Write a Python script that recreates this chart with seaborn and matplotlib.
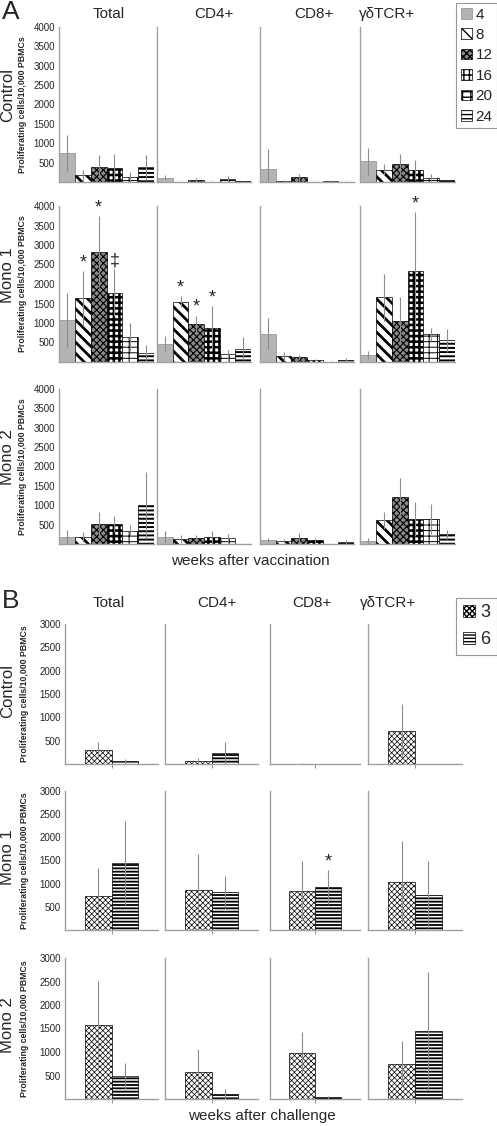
import numpy as np
import pandas as pd
import matplotlib
matplotlib.use('Agg')
import matplotlib.pyplot as plt
import seaborn as sns
from matplotlib.patches import Patch

sns.set_style('white')
plt.rcParams['font.family'] = ['Liberation Sans', 'DejaVu Sans']
plt.rcParams['hatch.linewidth'] = 1.0

# ---------- data ----------
cells = ['Total', 'CD4+', 'CD8+', 'γδTCR+']
groups = ['Control', 'Mono 1', 'Mono 2']
weeks_vac = ['4', '8', '12', '16', '20', '24']
weeks_chal = ['3', '6']

# panel A: one list per cell type (Total, CD4+, CD8+, gdTCR+), weeks 4..24
vac_control = [[750, 190, 400, 370, 120, 380], [110, 5, 60, 10, 80, 20],
               [340, 20, 120, 5, 30, 10], [530, 320, 460, 310, 100, 50]]
vac_control_err = [[470, 130, 300, 350, 150, 320], [60, 5, 40, 5, 70, 10],
                   [520, 20, 95, 5, 30, 10], [350, 140, 270, 270, 115, 10]]
vac_mono1 = [[1080, 1630, 2830, 1780, 640, 230], [470, 1550, 970, 880, 200, 340],
             [725, 145, 120, 50, 10, 60], [170, 1655, 1060, 2340, 710, 555]]
vac_mono1_err = [[700, 700, 910, 600, 370, 200], [190, 140, 210, 550, 120, 290],
                 [400, 110, 70, 25, 5, 50], [100, 600, 600, 1500, 170, 290]]
vac_mono2 = [[180, 180, 515, 525, 345, 1000], [180, 120, 145, 170, 145, 0],
             [105, 70, 155, 95, 0, 50], [85, 615, 1225, 645, 645, 250]]
vac_mono2_err = [[170, 120, 310, 205, 150, 860], [155, 100, 80, 165, 105, 0],
                 [50, 50, 130, 70, 0, 50], [80, 215, 470, 445, 395, 120]]

# panel B: weeks 3 and 6 after challenge
chal_control = [[300, 57], [64, 236], [10, 5], [716, 0]]
chal_control_err = [[166, 58], [72, 230], [5, 5], [566, 0]]
chal_mono1 = [[730, 1445], [857, 814], [843, 921], [1043, 764]]
chal_mono1_err = [[615, 915], [785, 345], [640, 370], [870, 715]]
chal_mono2 = [[1580, 496], [575, 108], [984, 36], [754, 1443]]
chal_mono2_err = [[935, 280], [490, 115], [440, 30], [475, 1260]]

# significance marks: (group, cell, bar index, symbol)
sig_vac = [('Mono 1', 'Total', 1, '*'), ('Mono 1', 'Total', 2, '*'), ('Mono 1', 'Total', 3, '‡'),
           ('Mono 1', 'CD4+', 1, '*'), ('Mono 1', 'CD4+', 2, '*'), ('Mono 1', 'CD4+', 3, '*'),
           ('Mono 1', 'γδTCR+', 3, '*')]
sig_chal = [('Mono 1', 'CD8+', 1, '*')]

# ---------- styles ----------
vac_styles = [
    dict(fc='#b4b4b4', ec='#8a8a8a', hatch='', hlw=1.0),
    dict(fc='white', ec='black', hatch='\\\\\\', hlw=2.0),
    dict(fc='#8a8a8a', ec='black', hatch='xxxxx', hlw=0.8),
    dict(fc='white', ec='black', hatch='+++', hlw=1.8),
    dict(fc='white', ec='black', hatch='---||', hlw=0.7),
    dict(fc='white', ec='black', hatch='----', hlw=1.4),
]
chal_styles = [
    dict(fc='white', ec='black', hatch='xxxxxx', hlw=0.5),
    dict(fc='white', ec='black', hatch='-----', hlw=1.3),
]

W, H = 497, 1126
fig = plt.figure(figsize=(W / 100, H / 100), dpi=100)


def px_axes(x0, x1, y0, y1):
    return fig.add_axes([x0 / W, 1 - y1 / H, (x1 - x0) / W, (y1 - y0) / H])


def style_patch(p, st):
    p.set_facecolor(st['fc'])
    p.set_edgecolor(st['ec'])
    p.set_hatch(st['hatch'])
    p.set_linewidth(0.5)
    if hasattr(p, 'set_hatch_linewidth'):
        p.set_hatch_linewidth(st['hlw'])


def style_axis(ax, ymax, step, left):
    sns.despine(ax=ax)
    for s in ['left', 'bottom']:
        ax.spines[s].set_color('#a0a0a0')
        ax.spines[s].set_linewidth(1.0)
    ax.set_ylim(0, ymax)
    ax.set_yticks(np.arange(step, ymax + 1, step))
    ax.tick_params(axis='y', length=2, width=0.6, color='#808080', pad=1, labelsize=7)
    if not left:
        ax.set_yticklabels([])
    ax.set_xlabel('')
    ax.set_ylabel('')


# ---------- panel A ----------
colA = [(59, 154), (157, 251), (260, 354), (360, 455)]
rowA = [(27, 182), (206, 362), (389, 544)]
vac_vals = [vac_control, vac_mono1, vac_mono2]
vac_errs = [vac_control_err, vac_mono1_err, vac_mono2_err]

for gi, g in enumerate(groups):
    for ci, c in enumerate(cells):
        ax = px_axes(colA[ci][0], colA[ci][1], rowA[gi][0], rowA[gi][1])
        df = pd.DataFrame({'week': weeks_vac, 'value': vac_vals[gi][ci]})
        sns.barplot(data=df, x='week', y='value', order=weeks_vac, width=1.0,
                    errorbar=None, color='white', ax=ax)
        for p, st in zip(ax.patches, vac_styles):
            style_patch(p, st)
        ax.errorbar(np.arange(len(weeks_vac)), vac_vals[gi][ci], yerr=vac_errs[gi][ci],
                    fmt='none', ecolor='#8c8c8c', elinewidth=0.8, capsize=0)
        for (sg, sc, idx, sym) in sig_vac:
            if sg == g and sc == c:
                top = vac_vals[gi][ci][idx] + vac_errs[gi][ci][idx]
                ax.text(idx, top, sym, ha='center', va='bottom', fontsize=13)
        style_axis(ax, 4000, 500, ci == 0)
        ax.set_xlim(-0.5, 5.5)
        ax.set_xticks([])
    yc = 1 - (rowA[gi][0] + rowA[gi][1]) / 2 / H
    fig.text(23 / W, yc, 'Proliferating cells/10,000 PBMCs', rotation=90,
             ha='center', va='center', fontsize=6.3, fontweight='bold')
    fig.text(8 / W, yc + 0.008, g, rotation=90, ha='center', va='center', fontsize=12)

titlesA_x = [109, 214, 314, 387]
for c, x in zip(cells, titlesA_x):
    fig.text(x / W, 1 - 14 / H, c, ha='center', va='center', fontsize=11)
fig.text(2 / W, 1 - 12 / H, 'A', ha='left', va='center', fontsize=19)
fig.text(250 / W, 1 - 561 / H, 'weeks after vaccination', ha='center', va='center', fontsize=11)

handlesA = []
for st in vac_styles:
    h = Patch(facecolor=st['fc'], edgecolor=st['ec'], hatch=st['hatch'], linewidth=0.5)
    if hasattr(h, 'set_hatch_linewidth'):
        h.set_hatch_linewidth(min(st['hlw'], 1.2))
    handlesA.append(h)
legA = fig.legend(handlesA, weeks_vac, loc='upper right', bbox_to_anchor=(1.0, 1 - 3 / H),
                  fontsize=11, frameon=True, handlelength=0.7, handleheight=0.7,
                  handletextpad=0.25, labelspacing=0.42, borderpad=0.3, borderaxespad=0)
legA.get_frame().set_edgecolor('#808080')
legA.get_frame().set_linewidth(0.8)
legA.get_frame().set_boxstyle('square', pad=0)

# ---------- panel B ----------
colB = [(65, 158), (165, 258), (270, 360), (368, 462)]
rowB = [(624, 764), (791, 930), (958, 1099)]
chal_vals = [chal_control, chal_mono1, chal_mono2]
chal_errs = [chal_control_err, chal_mono1_err, chal_mono2_err]

for gi, g in enumerate(groups):
    for ci, c in enumerate(cells):
        ax = px_axes(colB[ci][0], colB[ci][1], rowB[gi][0], rowB[gi][1])
        df = pd.DataFrame({'cell': [c] * 2, 'week': weeks_chal, 'value': chal_vals[gi][ci]})
        sns.barplot(data=df, x='cell', y='value', hue='week', hue_order=weeks_chal,
                    width=0.57, errorbar=None, palette=['white', 'white'], legend=False, ax=ax)
        centers = []
        for p, st in zip(ax.patches, chal_styles):
            style_patch(p, st)
            centers.append(p.get_x() + p.get_width() / 2)
        ax.errorbar(centers, chal_vals[gi][ci], yerr=chal_errs[gi][ci],
                    fmt='none', ecolor='#8c8c8c', elinewidth=0.8, capsize=0)
        for (sg, sc, idx, sym) in sig_chal:
            if sg == g and sc == c:
                top = chal_vals[gi][ci][idx] + chal_errs[gi][ci][idx]
                ax.text(centers[idx], top, sym, ha='center', va='bottom', fontsize=13)
        style_axis(ax, 3000, 500, ci == 0)
        ax.set_xlim(-0.5, 0.5)
        ax.set_xticks([0])
        ax.set_xticklabels([])
        ax.tick_params(axis='x', length=3, width=0.6, color='#808080', bottom=True)
    yc = 1 - (rowB[gi][0] + rowB[gi][1]) / 2 / H
    fig.text(25 / W, yc, 'Proliferating cells/10,000 PBMCs', rotation=90,
             ha='center', va='center', fontsize=6.3, fontweight='bold')
    fig.text(8 / W, yc + 0.003, g, rotation=90, ha='center', va='center', fontsize=12)

titlesB_x = [109, 217, 312, 388]
for c, x in zip(cells, titlesB_x):
    fig.text(x / W, 1 - 603 / H, c, ha='center', va='center', fontsize=11)
fig.text(2 / W, 1 - 601 / H, 'B', ha='left', va='center', fontsize=19)
fig.text(262 / W, 1 - 1116 / H, 'weeks after challenge', ha='center', va='center', fontsize=11)

handlesB = []
for st in chal_styles:
    h = Patch(facecolor=st['fc'], edgecolor=st['ec'], hatch=st['hatch'], linewidth=0.5)
    if hasattr(h, 'set_hatch_linewidth'):
        h.set_hatch_linewidth(min(st['hlw'], 1.0))
    handlesB.append(h)
legB = fig.legend(handlesB, weeks_chal, loc='upper right', bbox_to_anchor=(1.0, 1 - 598 / H),
                  fontsize=13, frameon=True, handlelength=0.7, handleheight=0.7,
                  handletextpad=0.3, labelspacing=0.55, borderpad=0.35, borderaxespad=0)
legB.get_frame().set_edgecolor('#808080')
legB.get_frame().set_linewidth(0.8)
legB.get_frame().set_boxstyle('square', pad=0)

fig.savefig('out.png', dpi=100, facecolor='white')
